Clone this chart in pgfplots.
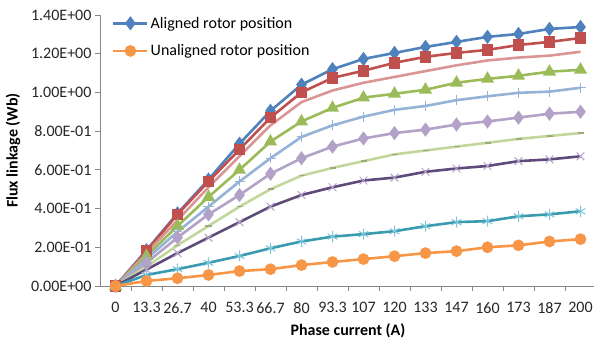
\documentclass[border=0pt]{standalone}
\usepackage{fontspec}
\setmainfont{Carlito}
\usepackage{pgfplots}
\usepackage{pgfplotstable}
\pgfplotsset{compat=1.18}
\definecolor{cblue}{HTML}{4F81BD}
\definecolor{cred}{HTML}{C0504D}
\definecolor{cpink}{HTML}{DA9694}
\definecolor{cgreen}{HTML}{9BBB59}
\definecolor{clblue}{HTML}{95B3D7}
\definecolor{clpurple}{HTML}{B3A2C7}
\definecolor{clgreen}{HTML}{C3D69B}
\definecolor{cdpurple}{HTML}{604A7B}
\definecolor{cteal}{HTML}{3A9BB0}
\definecolor{clteal}{HTML}{7CC4D8}
\definecolor{corange}{HTML}{F79646}
\definecolor{axgray}{HTML}{868686}
\pgfplotstableread{
x  al     s2     s3    s4     s5    s6    s7    s8    s9    un
0  0      0      0     0      0     0     0     0     0     0
1  0.185  0.180  0.170 0.155  0.140 0.120 0.100 0.085 0.057 0.026
2  0.375  0.370  0.340 0.310  0.280 0.250 0.210 0.170 0.087 0.040
3  0.550  0.540  0.510 0.460  0.410 0.370 0.310 0.250 0.120 0.057
4  0.735  0.705  0.670 0.600  0.540 0.470 0.410 0.330 0.155 0.077
5  0.905  0.870  0.830 0.746  0.660 0.580 0.500 0.410 0.195 0.087
6  1.040  1.000  0.950 0.850  0.770 0.660 0.570 0.470 0.230 0.108
7  1.120  1.075  1.010 0.920  0.830 0.720 0.610 0.510 0.255 0.124
8  1.173  1.112  1.050 0.973  0.875 0.762 0.645 0.545 0.268 0.139
9  1.204  1.153  1.080 0.993  0.910 0.790 0.680 0.560 0.283 0.154
10 1.235  1.184  1.110 1.014  0.930 0.808 0.700 0.590 0.309 0.170
11 1.261  1.204  1.140 1.050  0.960 0.834 0.720 0.607 0.330 0.180
12 1.287  1.220  1.165 1.070  0.980 0.850 0.740 0.620 0.335 0.200
13 1.302  1.245  1.180 1.086  0.998 0.870 0.760 0.645 0.360 0.210
14 1.328  1.261  1.190 1.107  1.004 0.890 0.775 0.654 0.370 0.230
15 1.338  1.281  1.210 1.117  1.024 0.900 0.790 0.670 0.386 0.242
}\data
\begin{document}
\begin{tikzpicture}
\begin{axis}[
  scale only axis, width=496pt, height=271pt,
  xmin=-0.5, xmax=15.5, ymin=0, ymax=1.4,
  axis lines=left, axis line style={-, draw=axgray, line width=0.8pt},
  every tick/.style={draw=axgray, line width=0.8pt},
  tick align=outside, major tick length=5pt, minor tick length=5pt,
  xtick={0,...,15},
  xticklabels={0,13.3,26.7,40,53.3,66.7,80,93.3,107,120,133,147,160,173,187,200},
  major x tick style={draw=none},
  minor xtick={0.5,1.5,...,15.5},
  ytick={0,0.2,0.4,0.6,0.8,1.0,1.2,1.4},
  yticklabels={0.00E+00,2.00E-01,4.00E-01,6.00E-01,8.00E-01,1.00E+00,1.20E+00,1.40E+00},
  ticklabel style={font=\fontsize{16}{18}\selectfont, text=black!85},
  xticklabel style={yshift=-8pt, inner xsep=0pt},
  xlabel={\textbf{Phase current (A)}},
  ylabel={\textbf{Flux linkage (Wb)}},
  label style={font=\fontsize{16}{18}\selectfont},
  xlabel style={yshift=-3pt},
  ylabel style={yshift=4pt},
  clip=false,
  every axis plot/.append style={line width=2.6pt},
  legend style={at={(0.018,1.008)}, anchor=north west, draw=none, fill=none,
    font=\fontsize{16}{18}\selectfont, row sep=11pt},
  legend cell align=left,
  legend image code/.code={\draw[mark repeat=2,mark phase=2] plot coordinates {(0pt,0pt) (17pt,0pt) (34pt,0pt)};},
]
\addplot[cblue, mark=diamond*, mark size=5pt, mark options={fill=cblue}] table[x=x,y=al]{\data};
\addlegendentry{Aligned rotor position}
\addplot[cred, mark=square*, mark size=4.5pt, forget plot] table[x=x,y=s2]{\data};
\addplot[cpink, forget plot] table[x=x,y=s3]{\data};
\addplot[cgreen, mark=triangle*, mark size=5pt, forget plot] table[x=x,y=s4]{\data};
\addplot[clblue, mark=+, mark size=5pt, mark options={line width=1pt}, forget plot] table[x=x,y=s5]{\data};
\addplot[clpurple, mark=diamond*, mark size=5pt, forget plot] table[x=x,y=s6]{\data};
\addplot[clgreen, mark=-, mark size=3pt, mark options={line width=1.5pt, draw=clgreen!80!black}, forget plot] table[x=x,y=s7]{\data};
\addplot[cdpurple, mark=x, mark size=5.5pt, mark options={draw=clpurple, line width=1pt}, forget plot] table[x=x,y=s8]{\data};
\addplot[cteal, mark=asterisk, mark size=5.5pt, mark options={draw=clteal, line width=1pt}, forget plot] table[x=x,y=s9]{\data};
\addplot[corange, mark=*, mark size=4.5pt, mark options={fill=corange}] table[x=x,y=un]{\data};
\addlegendentry{Unaligned rotor position}
\end{axis}
\pgfresetboundingbox
\path (current axis.south west) ++(-100pt,-53pt) rectangle ++(594pt,339pt);
\end{tikzpicture}
\end{document}
